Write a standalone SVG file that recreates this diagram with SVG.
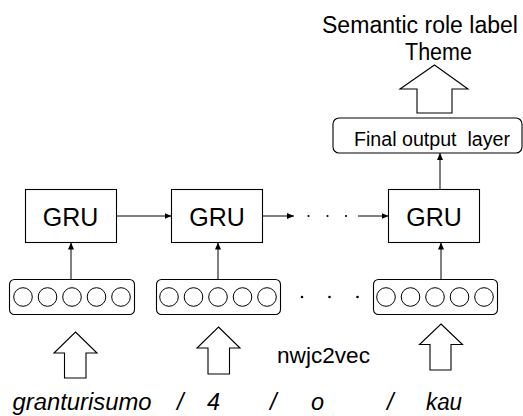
<svg xmlns="http://www.w3.org/2000/svg" width="523" height="416" viewBox="0 0 523 416">
<defs>
<style>
.box{fill:#fff;stroke:#000;stroke-width:1.1}
.emb{fill:#fff;stroke:#000;stroke-width:1.1}
.cir{fill:#fff;stroke:#000;stroke-width:1}
.ln{fill:none;stroke:#000;stroke-width:1}
.blk{fill:#fff;stroke:#000;stroke-width:1.1;stroke-linejoin:miter}
.dot{fill:#000}
text{font-family:"Liberation Sans",Arial,sans-serif;fill:#000}
.gru{font-size:25px;text-anchor:middle}
.it{font-size:23.5px;font-style:italic}
</style>
<marker id="ah" markerWidth="7" markerHeight="6" refX="7" refY="3" orient="auto" markerUnits="userSpaceOnUse">
<path d="M0,0 L7,3 L0,6 z" fill="#000"/>
</marker>
</defs>

<g id="title">
<text x="322" y="33" font-size="23" textLength="196" lengthAdjust="spacingAndGlyphs">Semantic role label</text>
<text x="405" y="60" font-size="23" textLength="67" lengthAdjust="spacingAndGlyphs">Theme</text>
</g>

<g id="out-arrow">
<polygon class="blk" points="434.5,65 468,89 452,89 452,113 417,113 417,89 400,89"/>
</g>

<g id="final-output">
<rect class="box" x="333" y="118" width="189" height="35" rx="6"/>
<text x="354" y="146" font-size="19.5" style="white-space:pre" textLength="156" lengthAdjust="spacingAndGlyphs">Final output  layer</text>
</g>

<g id="gru1">
<rect class="box" x="25.5" y="189.5" width="91" height="53"/>
<text class="gru" x="70.5" y="226">GRU</text>
</g>
<g id="gru2">
<rect class="box" x="171.5" y="189.5" width="91" height="53"/>
<text class="gru" x="217" y="226">GRU</text>
</g>
<g id="gru3">
<rect class="box" x="388.5" y="189.5" width="91" height="53"/>
<text class="gru" x="434" y="226">GRU</text>
</g>

<g id="emb1">
<rect class="emb" x="9.5" y="279.5" width="125" height="35" rx="5"/>
<circle class="cir" cx="23" cy="297" r="9.3"/>
<circle class="cir" cx="47.5" cy="297" r="9.3"/>
<circle class="cir" cx="72" cy="297" r="9.3"/>
<circle class="cir" cx="96.5" cy="297" r="9.3"/>
<circle class="cir" cx="121" cy="297" r="9.3"/>
</g>
<g id="emb2">
<rect class="emb" x="156.5" y="279.5" width="124" height="35" rx="5"/>
<circle class="cir" cx="169" cy="297" r="9.3"/>
<circle class="cir" cx="193.5" cy="297" r="9.3"/>
<circle class="cir" cx="218" cy="297" r="9.3"/>
<circle class="cir" cx="242.5" cy="297" r="9.3"/>
<circle class="cir" cx="267" cy="297" r="9.3"/>
</g>
<g id="emb3">
<rect class="emb" x="373.5" y="279.5" width="124" height="35" rx="5"/>
<circle class="cir" cx="386" cy="297" r="9.3"/>
<circle class="cir" cx="410.5" cy="297" r="9.3"/>
<circle class="cir" cx="435" cy="297" r="9.3"/>
<circle class="cir" cx="459.5" cy="297" r="9.3"/>
<circle class="cir" cx="484" cy="297" r="9.3"/>
</g>

<g id="connectors">
<line class="ln" x1="116.5" y1="216" x2="171.5" y2="216" marker-end="url(#ah)"/>
<line class="ln" x1="262.5" y1="216" x2="294" y2="216" marker-end="url(#ah)"/>
<line class="ln" x1="358" y1="216" x2="388.5" y2="216" marker-end="url(#ah)"/>
<line class="ln" x1="71" y1="279.5" x2="71" y2="242.5" marker-end="url(#ah)"/>
<line class="ln" x1="218" y1="279.5" x2="218" y2="242.5" marker-end="url(#ah)"/>
<line class="ln" x1="441" y1="279.5" x2="441" y2="242.5" marker-end="url(#ah)"/>
<line class="ln" x1="440" y1="189.5" x2="440" y2="153" marker-end="url(#ah)"/>
</g>

<g id="ellipsis">
<circle class="dot" cx="308.5" cy="216" r="1.1"/>
<circle class="dot" cx="327.5" cy="216" r="1.1"/>
<circle class="dot" cx="346" cy="216" r="1.1"/>
<circle class="dot" cx="302" cy="297" r="1.3"/>
<circle class="dot" cx="329.5" cy="297" r="1.3"/>
<circle class="dot" cx="357.5" cy="297" r="1.3"/>
</g>

<g id="input-arrows">
<polygon class="blk" points="75.5,332 97,353 86,353 86,378 64.5,378 64.5,353 54,353"/>
<polygon class="blk" points="218.5,327 240,348 229.5,348 229.5,374 208,374 208,348 197,348"/>
<polygon class="blk" points="441,324 462.5,344.5 451,344.5 451,370 430,370 430,344.5 419.5,344.5"/>
</g>

<g id="labels">
<text x="277" y="363" font-size="22" textLength="93" lengthAdjust="spacingAndGlyphs">nwjc2vec</text>
<text class="it" x="12.5" y="410" textLength="139" lengthAdjust="spacingAndGlyphs">granturisumo</text>
<text class="it" x="177" y="410">/</text>
<text class="it" x="207" y="410">4</text>
<text class="it" x="270" y="410">/</text>
<text class="it" x="311" y="410">o</text>
<text class="it" x="387" y="410">/</text>
<text class="it" x="426" y="410" textLength="36" lengthAdjust="spacingAndGlyphs">kau</text>
</g>
</svg>
